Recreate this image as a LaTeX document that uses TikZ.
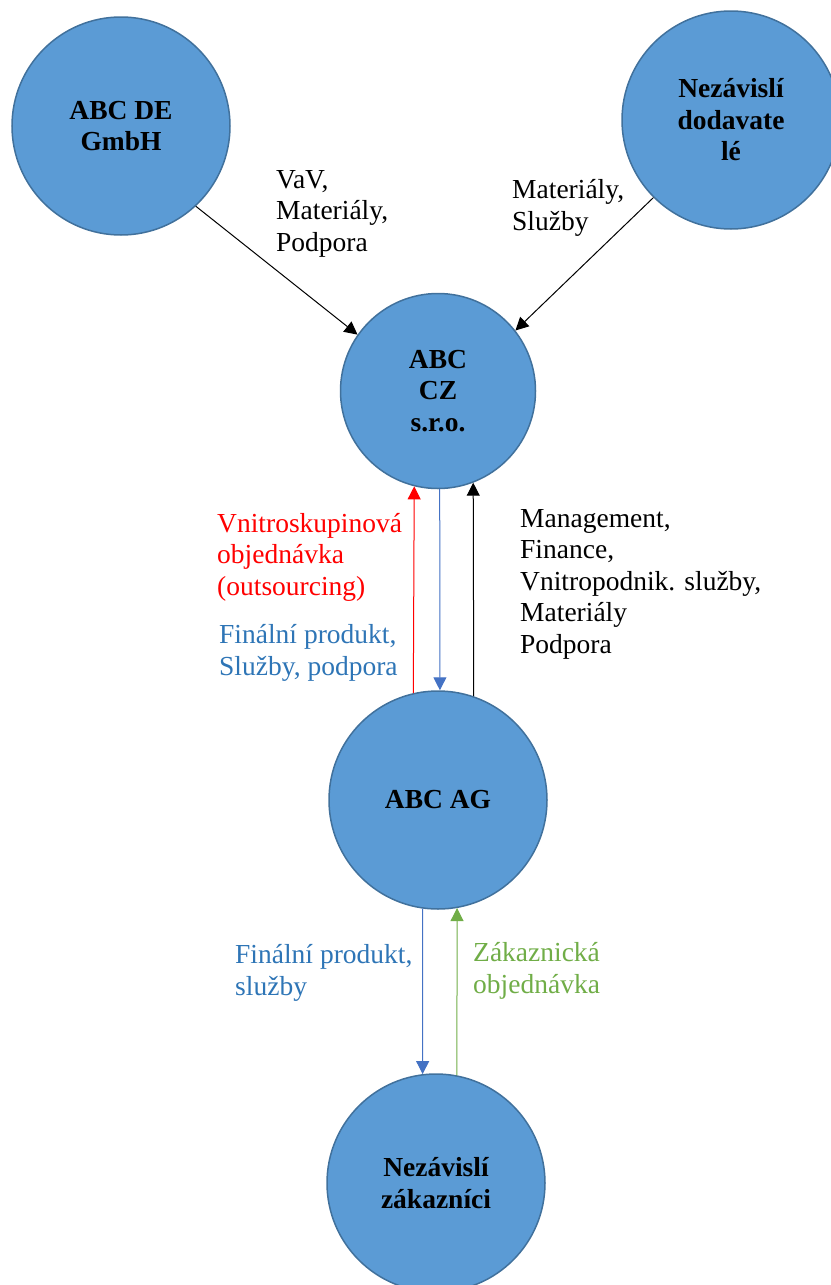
\documentclass[tikz,border=0pt]{standalone}
\usepackage{fontspec}
\setmainfont{Liberation Serif}
\usetikzlibrary{arrows.meta}
\definecolor{nodefill}{HTML}{5B9BD5}
\definecolor{nodeline}{HTML}{41719C}
\definecolor{flowblue}{HTML}{4472C4}
\definecolor{textblue}{HTML}{2E75B6}
\definecolor{flowgreen}{HTML}{70AD47}
\begin{document}
\begin{tikzpicture}[x=1pt,y=-1pt,
  entity/.style={circle, fill=nodefill, draw=nodeline, line width=1.5pt,
    inner sep=0pt, align=center, text=black,
    font=\fontsize{27.5}{31.5}\selectfont\bfseries},
  % labels are placed by the baseline of their last line
  lbl/.style={anchor=base west, inner sep=0pt, align=left,
    font=\fontsize{27.5}{31.5}\selectfont},
  flow/.style={line width=1pt, -{Triangle[length=13pt,width=13pt]}}]
\useasboundingbox (0,0) rectangle (830,1285);

% companies
\node[entity, minimum size=218pt] (de)  at (121,126)  {ABC DE\\GmbH};
\node[entity, minimum size=218pt] (sup) at (731,120)  {Nezávislí\\dodavate\\lé};
\node[entity, minimum size=195pt] (cz)  at (438,391)  {ABC\\CZ\\s.r.o.};
\node[entity, minimum size=218pt] (ag)  at (438,800)  {ABC AG};
\node[entity, minimum size=218pt] (zak) at (436,1183) {Nezávislí\\zákazníci};

% flows into ABC CZ
\draw[flow, black] (de.-47) -- (cz.145);
\draw[flow, black] (sup.225) -- (cz.38);

% flows between ABC CZ and ABC AG
\draw[flow, red] (ag.103.3) -- (cz.-104.9);
\draw[flow, flowblue] (cz.-89.4) -- (ag.89.5);
\draw[flow, black] (ag.71.8) -- (cz.-69.6);

% flows between ABC AG and customers
\draw[flow, flowblue] (ag.-98.4) -- (zak.97.4);
\draw[flow, flowgreen] (zak.79.4) -- (ag.-80.5);

% flow labels
\node[lbl] (t1) at (276,251) {VaV,\\Materiály,\\Podpora};
\node[lbl] (t2) at (512,230) {Materiály,\\Služby};
\node[lbl, text=red] (t3) at (217,595) {Vnitroskupinová\\objednávka\\(outsourcing)};
\node[lbl, text=textblue] (t4) at (219,675) {Finální produkt,\\Služby, podpora};
\node[lbl] (t5) at (520,653) {Management,\\Finance,\\Vnitropodnik. služby,\\Materiály\\Podpora};
\node[lbl, text=textblue] (t6) at (235,995) {Finální produkt,\\služby};
\node[lbl, text=flowgreen] (t7) at (473,993) {Zákaznická\\objednávka};
\end{tikzpicture}
\end{document}
